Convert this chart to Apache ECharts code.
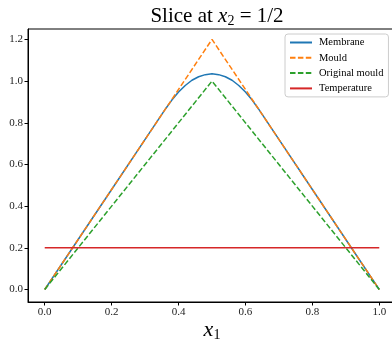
<!DOCTYPE html>
<html>
<head>
<meta charset="utf-8">
<script src="https://cdn.jsdelivr.net/npm/echarts@6/dist/echarts.min.js"></script>
<style>
  html, body { margin: 0; padding: 0; background: #fff; }
  #chart { width: 392px; height: 340px; }
</style>
</head>
<body>
<div id="chart"></div>
<script>
// x positions along the slice
const membraneX = [0, 0.1, 0.2, 0.3, 0.35, 0.3625, 0.38, 0.40, 0.42, 0.44, 0.46, 0.48, 0.50, 0.52, 0.54, 0.56, 0.58, 0.60, 0.62, 0.6375, 0.65, 0.7, 0.8, 0.9, 1];
const membraneY = [0, 0.24, 0.48, 0.72, 0.84, 0.87, 0.909, 0.948, 0.979, 1.004, 1.021, 1.031, 1.035, 1.031, 1.021, 1.004, 0.979, 0.948, 0.909, 0.87, 0.84, 0.72, 0.48, 0.24, 0];
const mouldX = [0, 0.5, 1];
const mouldY = [0, 1.2, 0];
const originalX = [0, 0.5, 1];
const originalY = [0, 1.0, 0];
const tempX = [0, 1];
const tempY = [0.2, 0.2];
const xTicks = [0, 0.2, 0.4, 0.6, 0.8, 1.0];
const yTicks = [0, 0.2, 0.4, 0.6, 0.8, 1.0, 1.2];

const pairs = (xs, ys) => xs.map((x, i) => [x, ys[i]]);
const serif = 'Liberation Serif';
const dash = [5.5, 2.4];

const chart = echarts.init(document.getElementById('chart'), null, { renderer: 'canvas' });
chart.setOption({
  animation: false,
  title: {
    text: '{a|Slice at }{i|x}{s|2}{a| = 1/2}',
    left: 212,
    textAlign: 'center',
    top: 0,
    textStyle: {
      rich: {
        a: { fontFamily: serif, fontSize: 21, fontWeight: 'normal', color: '#000' },
        i: { fontFamily: serif, fontSize: 21, fontWeight: 'normal', fontStyle: 'italic', color: '#000' },
        s: { fontFamily: serif, fontSize: 14, fontWeight: 'normal', color: '#000', padding: [9, 0, 0, 0] }
      }
    }
  },
  grid: { left: 28, width: 368, top: 29, height: 273, show: true, borderColor: '#000', borderWidth: 1, containLabel: false, outerBoundsMode: 'none' },
  legend: {
    orient: 'vertical',
    left: 285,
    top: 34,
    itemWidth: 22,
    itemHeight: 10,
    itemGap: 4.3,
    padding: [3, 5, 3, 4],
    borderColor: '#ccc',
    borderWidth: 1,
    borderRadius: 3,
    backgroundColor: 'rgba(255,255,255,0.8)',
    itemStyle: { opacity: 0 },
    textStyle: { fontFamily: serif, fontSize: 10.5, color: '#000', padding: [0, 0, 0, 2] },
    data: ['Membrane', 'Mould', 'Original mould', 'Temperature']
  },
  xAxis: {
    type: 'value',
    min: -0.05,
    max: 1.05,
    name: '{i|x}{s|1}',
    nameLocation: 'middle',
    nameGap: 17,
    nameMoveOverlap: false,
    nameTextStyle: {
      rich: {
        i: { fontFamily: serif, fontSize: 22, fontStyle: 'italic', color: '#000' },
        s: { fontFamily: serif, fontSize: 14, color: '#000', padding: [9, 0, 0, 0] }
      }
    },
    axisLine: { onZero: false, lineStyle: { color: '#000', width: 1 } },
    axisTick: { show: true, length: 3.5, lineStyle: { color: '#000' }, customValues: xTicks },
    axisLabel: {
      customValues: xTicks,
      formatter: v => v.toFixed(1),
      fontFamily: serif, fontSize: 11, color: '#222', margin: 5
    },
    splitLine: { show: false }
  },
  yAxis: {
    type: 'value',
    min: -0.06,
    max: 1.25,
    axisLine: { show: true, onZero: false, lineStyle: { color: '#000', width: 1 } },
    axisTick: { show: true, length: 3.5, lineStyle: { color: '#000' }, customValues: yTicks },
    axisLabel: {
      customValues: yTicks,
      formatter: v => v.toFixed(1),
      fontFamily: serif, fontSize: 11, color: '#222', margin: 5
    },
    splitLine: { show: false }
  },
  series: [
    { name: 'Membrane', type: 'line', data: pairs(membraneX, membraneY), showSymbol: false, symbol: 'none', color: '#1f77b4', lineStyle: { width: 1.5, color: '#1f77b4' }, z: 2 },
    { name: 'Mould', type: 'line', data: pairs(mouldX, mouldY), showSymbol: false, symbol: 'none', color: '#ff7f0e', lineStyle: { width: 1.5, color: '#ff7f0e', type: dash }, z: 3 },
    { name: 'Original mould', type: 'line', data: pairs(originalX, originalY), showSymbol: false, symbol: 'none', color: '#2ca02c', lineStyle: { width: 1.5, color: '#2ca02c', type: dash }, z: 4 },
    { name: 'Temperature', type: 'line', data: pairs(tempX, tempY), showSymbol: false, symbol: 'none', color: '#d62728', lineStyle: { width: 1.5, color: '#d62728' }, z: 5 }
  ]
});
</script>
</body>
</html>
